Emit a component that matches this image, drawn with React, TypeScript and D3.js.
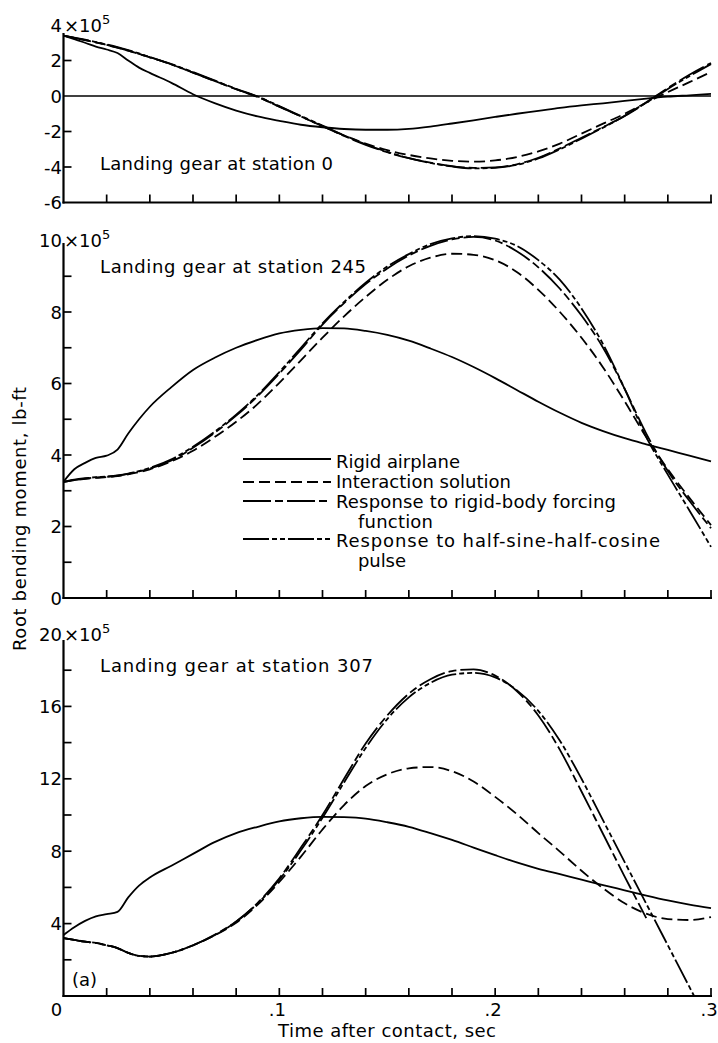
import React from 'react';
import * as d3 from 'd3';

// ---------- data (values in units of 10^5 lb-ft) ----------
const TIME = [0, 0.005, 0.01, 0.015, 0.02, 0.025, 0.03, 0.035, 0.04, 0.05, 0.06, 0.07, 0.08, 0.09, 0.10,
  0.11, 0.12, 0.13, 0.14, 0.15, 0.16, 0.17, 0.18, 0.19, 0.20, 0.21, 0.22, 0.23, 0.24, 0.25, 0.26, 0.27, 0.28, 0.29, 0.30];

// Station 0
const S0_RIGID = [3.4, 3.2, 3.0, 2.78, 2.62, 2.42, 2.0, 1.6, 1.3, 0.74, 0.1, -0.4, -0.82, -1.15, -1.4, -1.62, -1.76, -1.86, -1.9, -1.9,
  -1.85, -1.72, -1.55, -1.37, -1.18, -1.0, -0.84, -0.67, -0.53, -0.41, -0.28, -0.15, -0.04, 0.04, 0.12];
const S0_INTER = [3.4, 3.28, 3.15, 3.02, 2.88, 2.72, 2.55, 2.37, 2.18, 1.78, 1.32, 0.85, 0.38, -0.05, -0.6, -1.15, -1.7, -2.22, -2.68, -3.05,
  -3.32, -3.52, -3.65, -3.7, -3.63, -3.44, -3.12, -2.68, -2.12, -1.56, -1.0, -0.38, 0.22, 0.78, 1.35];
const S0_LD = [3.4, 3.28, 3.15, 3.02, 2.88, 2.72, 2.55, 2.37, 2.18, 1.78, 1.32, 0.85, 0.38, -0.05, -0.6, -1.15, -1.7, -2.25, -2.75, -3.17,
  -3.5, -3.76, -3.95, -4.05, -4.02, -3.85, -3.48, -2.95, -2.35, -1.75, -1.12, -0.35, 0.45, 1.2, 1.86];
const S0_HS = [3.4, 3.29, 3.17, 3.04, 2.9, 2.75, 2.58, 2.4, 2.2, 1.8, 1.35, 0.88, 0.4, -0.03, -0.57, -1.12, -1.67, -2.22, -2.72, -3.15,
  -3.5, -3.77, -3.97, -4.08, -4.05, -3.88, -3.52, -3.0, -2.4, -1.78, -1.13, -0.38, 0.4, 1.12, 1.8];

// Station 245
const S245_RIGID = [3.25, 3.6, 3.78, 3.92, 3.98, 4.15, 4.6, 5.0, 5.35, 5.9, 6.38, 6.72, 7.0, 7.22, 7.4, 7.5, 7.55, 7.54, 7.47, 7.36,
  7.2, 6.98, 6.74, 6.46, 6.15, 5.82, 5.49, 5.18, 4.9, 4.67, 4.47, 4.3, 4.14, 3.98, 3.82];
const S245_INTER = [3.25, 3.3, 3.33, 3.36, 3.38, 3.41, 3.46, 3.52, 3.6, 3.82, 4.12, 4.5, 4.93, 5.43, 6.02, 6.65, 7.28, 7.88, 8.42, 8.9,
  9.28, 9.52, 9.63, 9.6, 9.45, 9.12, 8.62, 8.0, 7.28, 6.45, 5.5, 4.5, 3.6, 2.8, 2.04];
const S245_LD = [3.25, 3.3, 3.34, 3.37, 3.39, 3.42, 3.47, 3.54, 3.62, 3.85, 4.2, 4.62, 5.1, 5.65, 6.28, 6.95, 7.65, 8.25, 8.78, 9.22,
  9.58, 9.85, 10.03, 10.1, 10.0, 9.7, 9.25, 8.65, 7.9, 7.0, 5.85, 4.6, 3.55, 2.72, 1.95];
const S245_HS = [3.25, 3.31, 3.35, 3.38, 3.4, 3.43, 3.48, 3.55, 3.64, 3.88, 4.23, 4.65, 5.13, 5.68, 6.32, 7.0, 7.68, 8.28, 8.82, 9.27,
  9.62, 9.9, 10.06, 10.12, 10.05, 9.85, 9.45, 8.9, 8.1, 7.1, 5.85, 4.5, 3.45, 2.45, 1.43];

// Station 307
const S307_RIGID = [3.37, 3.8, 4.15, 4.4, 4.52, 4.65, 5.45, 6.1, 6.55, 7.2, 7.85, 8.5, 9.0, 9.35, 9.65, 9.82, 9.9, 9.88, 9.8, 9.6,
  9.35, 9.0, 8.62, 8.2, 7.78, 7.38, 7.03, 6.73, 6.43, 6.13, 5.84, 5.55, 5.28, 5.05, 4.86];
const S307_INTER = [3.2, 3.1, 3.0, 2.93, 2.8, 2.65, 2.38, 2.22, 2.18, 2.38, 2.8, 3.35, 4.05, 5.05, 6.3, 7.7, 9.2, 10.55, 11.6, 12.25,
  12.58, 12.65, 12.42, 11.85, 11.0, 10.05, 9.0, 7.98, 6.92, 5.95, 5.12, 4.55, 4.25, 4.2, 4.36];
const S307_LD: (number | null)[] = [3.2, 3.1, 3.0, 2.93, 2.8, 2.65, 2.38, 2.22, 2.18, 2.38, 2.8, 3.38, 4.12, 5.15, 6.5, 8.2, 10.0, 12.0, 13.95, 15.5,
  16.7, 17.5, 17.95, 18.05, 17.7, 16.85, 15.5, 13.6, 11.3, 8.95, 6.6, 4.3, null, null, null];
const S307_HS = [3.2, 3.1, 3.0, 2.93, 2.8, 2.65, 2.38, 2.22, 2.18, 2.38, 2.8, 3.36, 4.1, 5.12, 6.42, 8.05, 9.85, 11.8, 13.7, 15.3,
  16.5, 17.3, 17.75, 17.85, 17.6, 16.9, 15.75, 14.1, 12.0, 9.7, 7.4, 5.1, 2.8, 0.5, -1.8];

// axes
const X_TICKS = [0.02, 0.04, 0.06, 0.08, 0.10, 0.12, 0.14, 0.16, 0.18, 0.20, 0.22, 0.24, 0.26, 0.28, 0.30];
const X_LABEL_VALUES = [0, 0.1, 0.2, 0.3];
const X_LABELS = ['0', '.1', '.2', '.3'];

const Y0_LABEL_VALUES = [4, 2, 0, -2, -4, -6];
const Y0_MINOR = [2, -2, -4];
const Y245_LABEL_VALUES = [10, 8, 6, 4, 2, 0];
const Y245_MINOR = [1, 2, 3, 4, 5, 6, 7, 8, 9];
const Y307_LABEL_VALUES = [20, 16, 12, 8, 4]; // the 0 is shared with the time axis label
const Y307_MINOR = [2, 4, 6, 8, 10, 12, 14, 16, 18];

const PANEL_TITLES = ['Landing gear at station 0', 'Landing gear at station 245', 'Landing gear at station 307'];
const LEGEND_LABELS = [
  ['Rigid airplane'],
  ['Interaction solution'],
  ['Response to rigid-body forcing', 'function'],
  ['Response to half-sine-half-cosine', 'pulse'],
];
const X_TITLE = 'Time after contact, sec';
const Y_TITLE = 'Root bending moment, lb-ft';

// ---------- layout ----------
const W = 718;
const H = 1043;
const FONT = '"DejaVu Sans", "Liberation Sans", sans-serif';
const x = d3.scaleLinear().domain([0, 0.3]).range([63.5, 711]);

const STYLES = {
  rigid: { dash: undefined as string | undefined },
  inter: { dash: '11,5' },
  ld: { dash: '28,4,8,4' },
  hs: { dash: '26,3,5,3,5,3' },
};

type Panel = {
  domain: [number, number];
  range: [number, number];
  axisTop: number;
  labels: number[];
  minor: number[];
  zeroLine: boolean;
  title: string;
  titleX: number;
  titleY: number;
  titleLen: number;
  series: { key: keyof typeof STYLES; values: (number | null)[] }[];
};

const PANELS: Panel[] = [
  {
    domain: [-6, 4], range: [202.5, 25], axisTop: 33, labels: Y0_LABEL_VALUES, minor: Y0_MINOR, zeroLine: true,
    title: PANEL_TITLES[0], titleX: 100, titleY: 170, titleLen: 233,
    series: [
      { key: 'rigid', values: S0_RIGID }, { key: 'inter', values: S0_INTER },
      { key: 'ld', values: S0_LD }, { key: 'hs', values: S0_HS },
    ],
  },
  {
    domain: [0, 10], range: [598, 240.5], axisTop: 243, labels: Y245_LABEL_VALUES, minor: Y245_MINOR, zeroLine: false,
    title: PANEL_TITLES[1], titleX: 100, titleY: 273, titleLen: 266,
    series: [
      { key: 'rigid', values: S245_RIGID }, { key: 'inter', values: S245_INTER },
      { key: 'ld', values: S245_LD }, { key: 'hs', values: S245_HS },
    ],
  },
  {
    domain: [0, 20], range: [996, 634], axisTop: 640, labels: Y307_LABEL_VALUES, minor: Y307_MINOR, zeroLine: false,
    title: PANEL_TITLES[2], titleX: 100, titleY: 672, titleLen: 273,
    series: [
      { key: 'rigid', values: S307_RIGID }, { key: 'inter', values: S307_INTER },
      { key: 'ld', values: S307_LD }, { key: 'hs', values: S307_HS },
    ],
  },
];

function PanelView({ p, idx }: { p: Panel; idx: number }) {
  const y = d3.scaleLinear().domain(p.domain).range(p.range);
  const axisY = y(p.domain[0]);
  const x0 = x(0);
  const line = d3
    .line<number | null>()
    .defined((d) => d !== null)
    .x((_d, i) => x(TIME[i]))
    .y((d) => y(d as number))
    .curve(d3.curveMonotoneX);
  const clipId = `clip${idx}`;
  const topVal = p.domain[1];
  return (
    <g>
      <defs>
        <clipPath id={clipId}>
          <rect x={x0} y={p.range[1] - 20} width={x(0.3) - x0 + 2} height={axisY - p.range[1] + 20} />
        </clipPath>
      </defs>
      {/* axes */}
      <line x1={x0} x2={x0} y1={p.axisTop} y2={axisY + 1} stroke="#000" strokeWidth={2.2} />
      <line x1={x0 - 1} x2={x(0.3) + 1} y1={axisY} y2={axisY} stroke="#000" strokeWidth={2.2} />
      {p.zeroLine && <line x1={x0} x2={x(0.3)} y1={y(0)} y2={y(0)} stroke="#000" strokeWidth={1.7} />}
      {X_TICKS.map((t) => (
        <line key={t} x1={x(t)} x2={x(t)} y1={axisY} y2={axisY - 8} stroke="#000" strokeWidth={1.7} />
      ))}
      {p.minor.map((v) => (
        <line key={v} x1={x0} x2={x0 + 8} y1={y(v)} y2={y(v)} stroke="#000" strokeWidth={1.7} />
      ))}
      {/* y labels */}
      {p.labels.map((v) => (
        <text key={v} x={62} y={y(v) + 6.5} textAnchor="end" fontSize={18} fontFamily={FONT}>
          {v < 0 ? `-${Math.abs(v)}` : String(v)}
        </text>
      ))}
      <text x={64} y={y(topVal) + 6.5} fontSize={18} fontFamily={FONT}>
        ×10<tspan fontSize={13} dy={-8}>5</tspan>
      </text>
      <text x={p.titleX} y={p.titleY} fontSize={18} fontFamily={FONT} textLength={p.titleLen} lengthAdjust="spacing">
        {p.title}
      </text>
      {/* curves */}
      <g clipPath={`url(#${clipId})`} fill="none" stroke="#000" strokeWidth={1.8}>
        {p.series.map((s) => (
          <path key={s.key} d={line(s.values) || ''} strokeDasharray={STYLES[s.key].dash} />
        ))}
      </g>
    </g>
  );
}

const LEGEND_KEYS: (keyof typeof STYLES)[] = ['rigid', 'inter', 'ld', 'hs'];
const LEGEND_LINE_Y = [459, 482, 501, 539];
const LEGEND_TEXT_Y = [[468], [488], [508, 528], [547, 567]];
const LEGEND_TEXT_LEN = [[124], [175], [280, 75], [324, 48]];

export default function App() {
  return (
    <svg
      width={W}
      height={H}
      viewBox={`0 0 ${W} ${H}`}
      style={{ position: 'absolute', left: 0, top: 0, background: '#fff', display: 'block' }}
    >
      <rect x={0} y={0} width={W} height={H} fill="#fff" />
      {PANELS.map((p, i) => (
        <PanelView key={i} p={p} idx={i} />
      ))}
      {/* legend */}
      {LEGEND_KEYS.map((k, i) => (
        <g key={k}>
          <line x1={243} x2={331} y1={LEGEND_LINE_Y[i]} y2={LEGEND_LINE_Y[i]} stroke="#000" strokeWidth={1.8}
            strokeDasharray={STYLES[k].dash} />
          {LEGEND_LABELS[i].map((txt, j) => (
            <text key={j} x={j === 0 ? 336 : 358} y={LEGEND_TEXT_Y[i][j]} fontSize={18} fontFamily={FONT}
              textLength={LEGEND_TEXT_LEN[i][j]} lengthAdjust="spacing">
              {txt}
            </text>
          ))}
        </g>
      ))}
      {/* x labels */}
      {X_LABEL_VALUES.map((v, i) => (
        <text key={v} x={x(v) - (i === 0 ? 7 : 2)} y={1016} textAnchor="middle" fontSize={18} fontFamily={FONT}>
          {X_LABELS[i]}
        </text>
      ))}
      <text x={387} y={1037} textAnchor="middle" fontSize={18} fontFamily={FONT} textLength={218} lengthAdjust="spacing">
        {X_TITLE}
      </text>
      <text transform="translate(26,519) rotate(-90)" textAnchor="middle" fontSize={18} fontFamily={FONT}
        textLength={264} lengthAdjust="spacing">
        {Y_TITLE}
      </text>
      <text x={72} y={986} fontSize={18} fontFamily={FONT}>(a)</text>
    </svg>
  );
}
